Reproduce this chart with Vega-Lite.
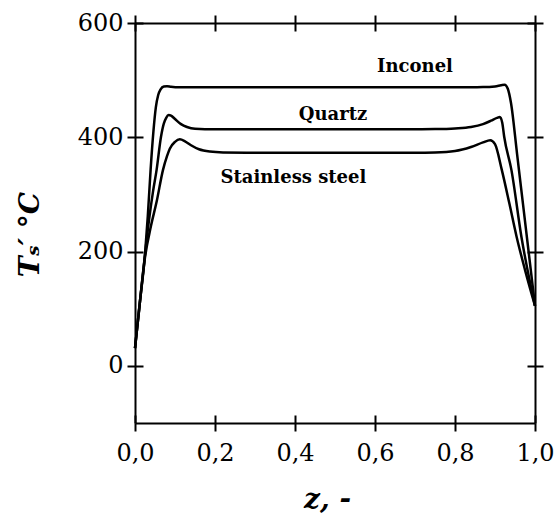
{
  "$schema": "https://vega.github.io/schema/vega-lite/v6.json",
  "width": 400,
  "height": 400,
  "autosize": {"type": "none"},
  "padding": {"left": 135, "top": 23, "right": 22, "bottom": 92},
  "background": "white",
  "config": {
    "view": {"stroke": null},
    "axis": {
      "domainColor": "black",
      "domainWidth": 2,
      "ticks": true,
      "tickColor": "black",
      "tickWidth": 2,
      "tickSize": 8,
      "gridColor": "black",
      "gridWidth": 2,
      "gridOpacity": 1,
      "labelColor": "black",
      "labelFont": "DejaVu Serif",
      "labelFontSize": 24,
      "labelFlush": false,
      "labelOverlap": false,
      "titleColor": "black",
      "titleFont": "DejaVu Serif",
      "titleFontStyle": "italic",
      "titleFontWeight": "bold"
    }
  },
  "datasets": {
    "curves": [
      {"series": "Inconel", "z": 0, "T": 31},
      {"series": "Inconel", "z": 0.012, "T": 110},
      {"series": "Inconel", "z": 0.025, "T": 195},
      {"series": "Inconel", "z": 0.032, "T": 262},
      {"series": "Inconel", "z": 0.039, "T": 343},
      {"series": "Inconel", "z": 0.046, "T": 410},
      {"series": "Inconel", "z": 0.052, "T": 452},
      {"series": "Inconel", "z": 0.058, "T": 474},
      {"series": "Inconel", "z": 0.064, "T": 484},
      {"series": "Inconel", "z": 0.072, "T": 489},
      {"series": "Inconel", "z": 0.08, "T": 489.5},
      {"series": "Inconel", "z": 0.09, "T": 488.5},
      {"series": "Inconel", "z": 0.11, "T": 487.5},
      {"series": "Inconel", "z": 0.2, "T": 487.5},
      {"series": "Inconel", "z": 0.3, "T": 487.5},
      {"series": "Inconel", "z": 0.4, "T": 487.5},
      {"series": "Inconel", "z": 0.5, "T": 487.5},
      {"series": "Inconel", "z": 0.6, "T": 487.5},
      {"series": "Inconel", "z": 0.7, "T": 487.5},
      {"series": "Inconel", "z": 0.8, "T": 487.5},
      {"series": "Inconel", "z": 0.87, "T": 487.8},
      {"series": "Inconel", "z": 0.9, "T": 489},
      {"series": "Inconel", "z": 0.915, "T": 491},
      {"series": "Inconel", "z": 0.924, "T": 492},
      {"series": "Inconel", "z": 0.932, "T": 485},
      {"series": "Inconel", "z": 0.94, "T": 460},
      {"series": "Inconel", "z": 0.955, "T": 372},
      {"series": "Inconel", "z": 0.97, "T": 283},
      {"series": "Inconel", "z": 0.985, "T": 194},
      {"series": "Inconel", "z": 1.0, "T": 105},
      {"series": "Quartz", "z": 0, "T": 31},
      {"series": "Quartz", "z": 0.012, "T": 110},
      {"series": "Quartz", "z": 0.025, "T": 195},
      {"series": "Quartz", "z": 0.035, "T": 255},
      {"series": "Quartz", "z": 0.045, "T": 305},
      {"series": "Quartz", "z": 0.054, "T": 343},
      {"series": "Quartz", "z": 0.065, "T": 401},
      {"series": "Quartz", "z": 0.072, "T": 424},
      {"series": "Quartz", "z": 0.078, "T": 434},
      {"series": "Quartz", "z": 0.084, "T": 439},
      {"series": "Quartz", "z": 0.09, "T": 438},
      {"series": "Quartz", "z": 0.1, "T": 432},
      {"series": "Quartz", "z": 0.115, "T": 423},
      {"series": "Quartz", "z": 0.13, "T": 418},
      {"series": "Quartz", "z": 0.15, "T": 415},
      {"series": "Quartz", "z": 0.2, "T": 414},
      {"series": "Quartz", "z": 0.3, "T": 414},
      {"series": "Quartz", "z": 0.4, "T": 414},
      {"series": "Quartz", "z": 0.5, "T": 414},
      {"series": "Quartz", "z": 0.6, "T": 414},
      {"series": "Quartz", "z": 0.7, "T": 414},
      {"series": "Quartz", "z": 0.75, "T": 414.3},
      {"series": "Quartz", "z": 0.8, "T": 415.5},
      {"series": "Quartz", "z": 0.84, "T": 418},
      {"series": "Quartz", "z": 0.87, "T": 423},
      {"series": "Quartz", "z": 0.89, "T": 429},
      {"series": "Quartz", "z": 0.905, "T": 434},
      {"series": "Quartz", "z": 0.912, "T": 435.5},
      {"series": "Quartz", "z": 0.918, "T": 426},
      {"series": "Quartz", "z": 0.923, "T": 401},
      {"series": "Quartz", "z": 0.941, "T": 343},
      {"series": "Quartz", "z": 0.966, "T": 226},
      {"series": "Quartz", "z": 1.0, "T": 105},
      {"series": "Stainless steel", "z": 0, "T": 31},
      {"series": "Stainless steel", "z": 0.012, "T": 110},
      {"series": "Stainless steel", "z": 0.025, "T": 190},
      {"series": "Stainless steel", "z": 0.04, "T": 245},
      {"series": "Stainless steel", "z": 0.054, "T": 287},
      {"series": "Stainless steel", "z": 0.07, "T": 343},
      {"series": "Stainless steel", "z": 0.08, "T": 367},
      {"series": "Stainless steel", "z": 0.087, "T": 380},
      {"series": "Stainless steel", "z": 0.1, "T": 392},
      {"series": "Stainless steel", "z": 0.112, "T": 396.5},
      {"series": "Stainless steel", "z": 0.125, "T": 393},
      {"series": "Stainless steel", "z": 0.14, "T": 386},
      {"series": "Stainless steel", "z": 0.16, "T": 379},
      {"series": "Stainless steel", "z": 0.187, "T": 375},
      {"series": "Stainless steel", "z": 0.22, "T": 373.5},
      {"series": "Stainless steel", "z": 0.3, "T": 373},
      {"series": "Stainless steel", "z": 0.4, "T": 373},
      {"series": "Stainless steel", "z": 0.5, "T": 373},
      {"series": "Stainless steel", "z": 0.6, "T": 373},
      {"series": "Stainless steel", "z": 0.7, "T": 373},
      {"series": "Stainless steel", "z": 0.75, "T": 373.5},
      {"series": "Stainless steel", "z": 0.8, "T": 376},
      {"series": "Stainless steel", "z": 0.84, "T": 383},
      {"series": "Stainless steel", "z": 0.87, "T": 391},
      {"series": "Stainless steel", "z": 0.888, "T": 395},
      {"series": "Stainless steel", "z": 0.9, "T": 388},
      {"series": "Stainless steel", "z": 0.917, "T": 343},
      {"series": "Stainless steel", "z": 0.936, "T": 284},
      {"series": "Stainless steel", "z": 0.954, "T": 226},
      {"series": "Stainless steel", "z": 0.975, "T": 168},
      {"series": "Stainless steel", "z": 1.0, "T": 105}
    ],
    "labels": [
      {"label": "Inconel", "z": 0.70, "T": 514},
      {"label": "Quartz", "z": 0.495, "T": 430},
      {"label": "Stainless steel", "z": 0.396, "T": 320}
    ]
  },
  "layer": [
    {
      "data": {"name": "curves"},
      "mark": {"type": "line", "color": "black", "strokeWidth": 2.5, "interpolate": "monotone"},
      "encoding": {
        "x": {
          "field": "z", "type": "quantitative",
          "scale": {"domain": [0, 1], "nice": false, "zero": false},
          "axis": {
            "orient": "bottom",
            "values": [0, 0.2, 0.4, 0.6, 0.8, 1.0],
            "labelExpr": "replace(format(datum.value, '.1f'), '.', ',')",
            "ticks": true,
            "tickSize": 8,
            "labelPadding": 10,
            "grid": true,
            "gridDash": [8, 384, 8],
            "title": "z, -",
            "titleFontSize": 28,
            "titleBaseline": "alphabetic",
            "titleX": 192,
            "titleY": 84
          }
        },
        "y": {
          "field": "T", "type": "quantitative",
          "scale": {"domain": [-100, 600], "nice": false, "zero": false},
          "axis": {
            "orient": "left",
            "values": [0, 200, 400, 600],
            "labelExpr": "format(datum.value, 'd')",
            "ticks": true,
            "tickSize": 8,
            "labelPadding": 4,
            "grid": true,
            "gridDash": [8, 384, 8],
            "title": "Tₛ′ °C",
            "titleFontSize": 28,
            "titleBaseline": "alphabetic",
            "titleAngle": -90,
            "titleAlign": "center",
            "titleX": -97,
            "titleY": 211
          }
        },
        "detail": {"field": "series", "type": "nominal"}
      }
    },
    {
      "data": {"name": "labels"},
      "mark": {"type": "text", "font": "DejaVu Serif", "fontWeight": "bold", "fontSize": 18, "color": "black", "align": "center", "baseline": "alphabetic"},
      "encoding": {
        "x": {
          "field": "z", "type": "quantitative",
          "scale": {"domain": [0, 1], "nice": false, "zero": false},
          "axis": {"orient": "top", "values": [0, 0.2, 0.4, 0.6, 0.8, 1.0], "labels": false, "ticks": true, "tickSize": 8, "grid": false, "title": null}
        },
        "y": {
          "field": "T", "type": "quantitative",
          "scale": {"domain": [-100, 600], "nice": false, "zero": false},
          "axis": {"orient": "right", "values": [0, 200, 400, 600], "labels": false, "ticks": true, "tickSize": 8, "grid": false, "title": null}
        },
        "text": {"field": "label", "type": "nominal"}
      }
    }
  ],
  "resolve": {"axis": {"x": "independent", "y": "independent"}}
}
